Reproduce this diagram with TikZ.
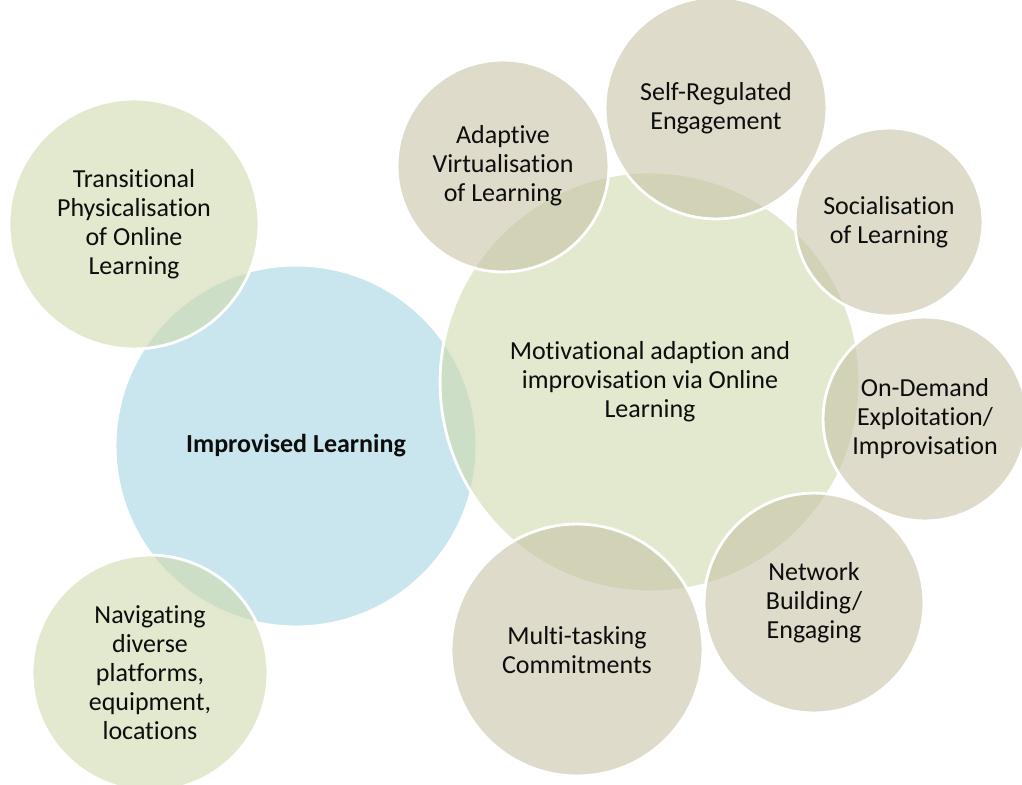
\documentclass[tikz,border=0pt]{standalone}
\usepackage{fontspec}
\setmainfont[RawFeature=-liga]{Carlito}
\usepackage{xcolor}

\definecolor{leafgreen}{RGB}{207,218,173}
\definecolor{skyblue}{RGB}{165,212,225}
\definecolor{sandtan}{RGB}{200,195,168}

\begin{document}
\begin{tikzpicture}[x=0.02cm,y=-0.02cm,
    bubble/.style={circle, draw=white, line width=1.6pt, fill opacity=0.6,
        draw opacity=1, text opacity=1, align=center, inner sep=0pt,
        text=black!95, font=\fontsize{14.8pt}{16.5pt}\selectfont},
    greenbub/.style={bubble, fill=leafgreen},
    bluebub/.style={bubble, fill=skyblue},
    tanbub/.style={bubble, fill=sandtan}]
    \useasboundingbox (0,0) rectangle (1022,785);

    % Core circles
    \node[bluebub, minimum size=181*0.04cm, font=\fontsize{14.8pt}{16.5pt}\selectfont\bfseries]
        (improvised) at (296,446) {Improvised Learning};
    \node[greenbub, minimum size=210*0.04cm] (motivational) at (650,382)
        {Motivational adaption and\\improvisation via Online\\Learning};

    % Left side
    \node[greenbub, minimum size=125*0.04cm] (transitional) at (134,224)
        {Transitional\\Physicalisation\\of Online\\Learning};
    \node[greenbub, minimum size=118*0.04cm] (navigating) at (150,673)
        {Navigating\\diverse\\platforms,\\equipment,\\locations};

    % Right side
    \node[tanbub, minimum size=106*0.04cm] (adaptive) at (503,166)
        {Adaptive\\Virtualisation\\of Learning};
    \node[tanbub, minimum size=111*0.04cm] (selfreg) at (716,108)
        {Self-Regulated\\Engagement};
    \node[tanbub, minimum size=94*0.04cm] (social) at (889,222)
        {Socialisation\\of Learning};
    \node[tanbub, minimum size=102*0.04cm] (ondemand) at (925,419)
        {On-Demand\\Exploitation/\\Improvisation};
    \node[tanbub, minimum size=110*0.04cm] (network) at (814,603)
        {Network\\Building/\\Engaging};
    \node[tanbub, minimum size=126*0.04cm] (multitask) at (577,650)
        {Multi-tasking\\Commitments};
\end{tikzpicture}
\end{document}
